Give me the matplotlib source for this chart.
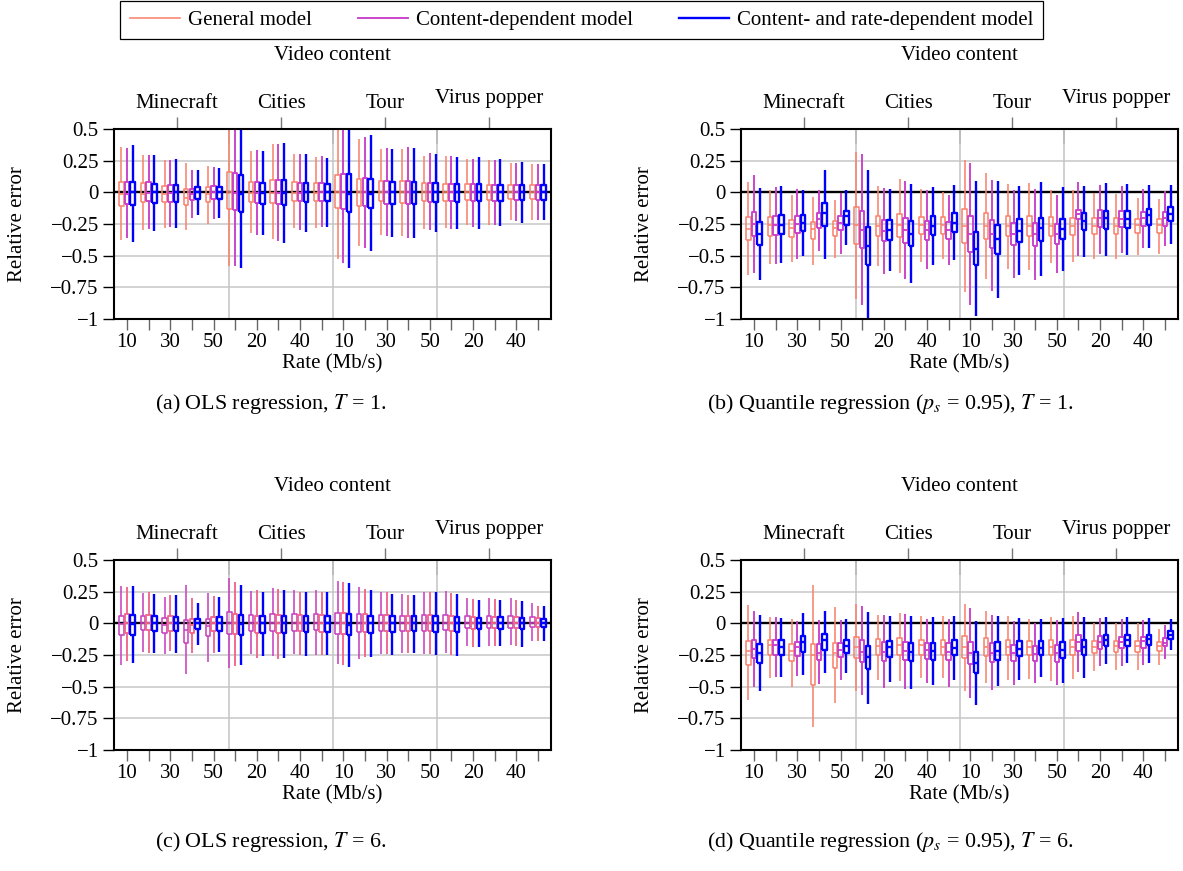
import matplotlib
matplotlib.use("Agg")
import matplotlib.pyplot as plt
import matplotlib.transforms as mtransforms
from matplotlib.lines import Line2D

plt.rcParams["font.family"] = ["Liberation Serif", "DejaVu Serif"]
plt.rcParams["mathtext.fontset"] = "stix"

contents = ["Minecraft", "Cities", "Tour", "Virus popper"]
rates = [10, 20, 30, 40, 50]
model_names = ["General model", "Content-dependent model",
               "Content- and rate-dependent model"]

# each row: (whisker low, q1, median, q3, whisker high) per content/rate pair

# (a) OLS regression, T = 1
ols1_general = [
    (-0.38, -0.105, -0.015, 0.079, 0.355), (-0.296, -0.077, -0.01, 0.077, 0.296),
    (-0.283, -0.077, -0.01, 0.05, 0.254), (-0.30, -0.10, -0.045, 0.03, 0.23),
    (-0.25, -0.075, -0.01, 0.04, 0.21), (-0.58, -0.13, 0.0, 0.16, 0.62),
    (-0.325, -0.08, -0.005, 0.08, 0.325), (-0.37, -0.085, -0.005, 0.095, 0.38),
    (-0.28, -0.065, -0.005, 0.08, 0.30), (-0.28, -0.07, -0.005, 0.076, 0.28),
    (-0.53, -0.126, 0.0, 0.14, 0.62), (-0.42, -0.105, 0.0, 0.108, 0.42),
    (-0.34, -0.07, 0.0, 0.09, 0.34), (-0.345, -0.084, 0.0, 0.09, 0.345),
    (-0.287, -0.07, 0.0, 0.076, 0.29), (-0.28, -0.07, 0.0, 0.068, 0.29),
    (-0.26, -0.063, 0.0, 0.066, 0.266), (-0.255, -0.063, 0.0, 0.06, 0.258),
    (-0.216, -0.053, 0.0, 0.055, 0.234), (-0.216, -0.053, 0.0, 0.055, 0.226),
]
ols1_content = [
    (-0.36, -0.095, -0.01, 0.085, 0.35), (-0.286, -0.07, -0.005, 0.08, 0.296),
    (-0.27, -0.074, -0.005, 0.055, 0.254), (-0.20, -0.06, -0.01, 0.03, 0.18),
    (-0.21, -0.05, 0.0, 0.05, 0.20), (-0.585, -0.14, -0.005, 0.15, 0.62),
    (-0.34, -0.085, -0.005, 0.08, 0.335), (-0.385, -0.09, -0.005, 0.095, 0.385),
    (-0.30, -0.07, -0.005, 0.075, 0.30), (-0.27, -0.07, 0.0, 0.076, 0.284),
    (-0.555, -0.13, 0.0, 0.142, 0.62), (-0.437, -0.105, 0.0, 0.113, 0.44),
    (-0.347, -0.09, 0.0, 0.09, 0.353), (-0.358, -0.09, 0.0, 0.09, 0.355),
    (-0.30, -0.08, 0.0, 0.076, 0.31), (-0.287, -0.07, 0.0, 0.066, 0.284),
    (-0.27, -0.07, 0.0, 0.066, 0.266), (-0.26, -0.065, 0.0, 0.06, 0.253),
    (-0.229, -0.058, 0.0, 0.055, 0.229), (-0.22, -0.058, 0.0, 0.055, 0.22),
]
ols1_rate = [
    (-0.39, -0.10, 0.0, 0.085, 0.37), (-0.307, -0.085, 0.0, 0.069, 0.296),
    (-0.28, -0.077, 0.0, 0.06, 0.264), (-0.18, -0.05, 0.0, 0.04, 0.175),
    (-0.20, -0.05, 0.0, 0.045, 0.19), (-0.60, -0.155, -0.01, 0.14, 0.62),
    (-0.34, -0.09, -0.005, 0.075, 0.325), (-0.40, -0.10, -0.005, 0.095, 0.39),
    (-0.31, -0.075, 0.0, 0.075, 0.30), (-0.27, -0.07, 0.0, 0.068, 0.27),
    (-0.60, -0.158, -0.016, 0.142, 0.62), (-0.463, -0.12, -0.01, 0.108, 0.45),
    (-0.353, -0.09, 0.0, 0.084, 0.34), (-0.358, -0.095, 0.0, 0.084, 0.35),
    (-0.313, -0.08, 0.0, 0.07, 0.305), (-0.287, -0.08, 0.0, 0.066, 0.276),
    (-0.287, -0.07, 0.0, 0.066, 0.28), (-0.268, -0.07, 0.0, 0.06, 0.263),
    (-0.242, -0.063, 0.0, 0.055, 0.237), (-0.22, -0.058, 0.0, 0.055, 0.22),
]

# (b) quantile regression, T = 1
qr1_general = [
    (-0.65, -0.374, -0.287, -0.195, 0.08), (-0.563, -0.342, -0.26, -0.197, 0.02),
    (-0.55, -0.353, -0.279, -0.216, -0.018), (-0.571, -0.371, -0.287, -0.237, -0.037),
    (-0.516, -0.345, -0.282, -0.229, -0.058), (-0.84, -0.405, -0.255, -0.116, 0.318),
    (-0.584, -0.345, -0.268, -0.19, 0.05), (-0.634, -0.355, -0.26, -0.171, 0.108),
    (-0.55, -0.332, -0.26, -0.192, 0.024), (-0.529, -0.329, -0.258, -0.195, 0.0),
    (-0.79, -0.397, -0.268, -0.134, 0.258), (-0.687, -0.366, -0.268, -0.163, 0.155),
    (-0.608, -0.347, -0.268, -0.187, 0.066), (-0.616, -0.347, -0.266, -0.187, 0.074),
    (-0.558, -0.342, -0.268, -0.195, 0.021), (-0.55, -0.334, -0.268, -0.2, 0.016),
    (-0.53, -0.332, -0.266, -0.2, -0.003), (-0.524, -0.332, -0.268, -0.2, -0.016),
    (-0.492, -0.318, -0.255, -0.208, -0.042), (-0.484, -0.321, -0.255, -0.21, -0.05),
]
qr1_content = [
    (-0.637, -0.347, -0.253, -0.155, 0.134), (-0.563, -0.334, -0.26, -0.187, 0.042),
    (-0.53, -0.321, -0.247, -0.184, 0.026), (-0.463, -0.284, -0.208, -0.163, 0.016),
    (-0.484, -0.297, -0.242, -0.187, -0.003), (-0.892, -0.442, -0.295, -0.147, 0.3),
    (-0.642, -0.387, -0.305, -0.218, 0.037), (-0.687, -0.397, -0.3, -0.2, 0.092),
    (-0.608, -0.376, -0.3, -0.224, 0.016), (-0.574, -0.366, -0.297, -0.232, -0.024),
    (-0.887, -0.468, -0.332, -0.187, 0.232), (-0.779, -0.439, -0.332, -0.218, 0.1),
    (-0.676, -0.418, -0.332, -0.242, 0.021), (-0.689, -0.421, -0.326, -0.242, 0.029),
    (-0.639, -0.408, -0.332, -0.253, -0.018), (-0.505, -0.213, -0.175, -0.137, 0.082),
    (-0.484, -0.274, -0.203, -0.137, 0.061), (-0.479, -0.274, -0.208, -0.147, 0.053),
    (-0.442, -0.268, -0.203, -0.153, 0.024), (-0.426, -0.263, -0.205, -0.158, 0.013),
]
qr1_rate = [
    (-0.695, -0.418, -0.326, -0.237, 0.037), (-0.558, -0.332, -0.258, -0.179, 0.047),
    (-0.505, -0.308, -0.24, -0.176, 0.02), (-0.53, -0.263, -0.16, -0.084, 0.18),
    (-0.418, -0.255, -0.189, -0.147, 0.016), (-1.05, -0.576, -0.424, -0.276, 0.174),
    (-0.624, -0.379, -0.3, -0.218, 0.024), (-0.713, -0.421, -0.326, -0.229, 0.063),
    (-0.574, -0.34, -0.263, -0.187, 0.042), (-0.532, -0.311, -0.24, -0.163, 0.058),
    (-0.974, -0.571, -0.445, -0.313, 0.087), (-0.832, -0.484, -0.368, -0.258, 0.092),
    (-0.655, -0.392, -0.303, -0.213, 0.05), (-0.66, -0.384, -0.282, -0.2, 0.079),
    (-0.624, -0.371, -0.289, -0.21, 0.042), (-0.51, -0.3, -0.226, -0.16, 0.05),
    (-0.505, -0.287, -0.203, -0.145, 0.076), (-0.497, -0.282, -0.208, -0.145, 0.066),
    (-0.442, -0.255, -0.182, -0.129, 0.055), (-0.405, -0.229, -0.168, -0.116, 0.06),
]

# (c) OLS regression, T = 6
ols6_general = [
    (-0.33, -0.095, -0.005, 0.06, 0.295), (-0.229, -0.053, 0.0, 0.06, 0.24),
    (-0.242, -0.074, -0.01, 0.042, 0.21), (-0.397, -0.153, -0.055, 0.026, 0.3),
    (-0.303, -0.1, -0.02, 0.037, 0.24), (-0.35, -0.082, 0.0, 0.092, 0.358),
    (-0.245, -0.058, 0.0, 0.068, 0.255), (-0.26, -0.058, 0.0, 0.076, 0.282),
    (-0.242, -0.058, 0.0, 0.071, 0.26), (-0.253, -0.055, 0.0, 0.074, 0.266),
    (-0.324, -0.082, 0.0, 0.084, 0.334), (-0.279, -0.068, 0.0, 0.076, 0.284),
    (-0.245, -0.061, 0.0, 0.068, 0.25), (-0.232, -0.058, 0.0, 0.06, 0.234),
    (-0.242, -0.061, 0.0, 0.066, 0.25), (-0.234, -0.055, 0.0, 0.068, 0.253),
    (-0.179, -0.034, 0.0, 0.058, 0.203), (-0.179, -0.037, 0.0, 0.055, 0.2),
    (-0.174, -0.034, 0.0, 0.055, 0.197), (-0.139, -0.026, 0.0, 0.05, 0.161),
]
ols6_content = [
    (-0.3, -0.076, 0.0, 0.071, 0.29), (-0.234, -0.053, 0.0, 0.066, 0.247),
    (-0.218, -0.058, 0.0, 0.055, 0.221), (-0.237, -0.076, -0.01, 0.032, 0.2),
    (-0.234, -0.063, 0.0, 0.05, 0.216), (-0.337, -0.087, 0.0, 0.076, 0.326),
    (-0.276, -0.074, 0.0, 0.06, 0.26), (-0.279, -0.074, 0.0, 0.068, 0.268),
    (-0.247, -0.063, 0.0, 0.066, 0.245), (-0.253, -0.068, 0.0, 0.063, 0.245),
    (-0.329, -0.082, 0.0, 0.084, 0.329), (-0.266, -0.068, 0.0, 0.071, 0.271),
    (-0.242, -0.061, 0.0, 0.063, 0.247), (-0.232, -0.061, 0.0, 0.06, 0.226),
    (-0.245, -0.061, 0.0, 0.063, 0.247), (-0.247, -0.063, 0.0, 0.058, 0.24),
    (-0.187, -0.042, 0.0, 0.053, 0.192), (-0.182, -0.04, 0.0, 0.053, 0.19),
    (-0.179, -0.04, 0.0, 0.05, 0.187), (-0.137, -0.032, 0.0, 0.04, 0.139),
]
ols6_rate = [
    (-0.316, -0.089, -0.005, 0.068, 0.297), (-0.237, -0.063, 0.0, 0.055, 0.229),
    (-0.234, -0.063, 0.0, 0.05, 0.226), (-0.168, -0.047, 0.0, 0.037, 0.158),
    (-0.226, -0.063, 0.0, 0.05, 0.21), (-0.326, -0.089, -0.005, 0.066, 0.305),
    (-0.26, -0.074, 0.0, 0.055, 0.247), (-0.275, -0.074, 0.0, 0.058, 0.263),
    (-0.258, -0.068, 0.0, 0.055, 0.245), (-0.253, -0.068, 0.0, 0.058, 0.245),
    (-0.347, -0.095, -0.01, 0.071, 0.318), (-0.263, -0.074, 0.0, 0.058, 0.26),
    (-0.253, -0.066, 0.0, 0.058, 0.234), (-0.237, -0.063, 0.0, 0.055, 0.221),
    (-0.247, -0.068, 0.0, 0.06, 0.25), (-0.255, -0.068, 0.0, 0.053, 0.234),
    (-0.187, -0.047, 0.0, 0.042, 0.182), (-0.182, -0.047, 0.0, 0.047, 0.182),
    (-0.184, -0.047, 0.0, 0.042, 0.179), (-0.139, -0.032, 0.0, 0.037, 0.137),
]

# (d) quantile regression, T = 6
qr6_general = [
    (-0.605, -0.326, -0.221, -0.139, 0.147), (-0.432, -0.247, -0.174, -0.132, 0.053),
    (-0.5, -0.3, -0.221, -0.163, 0.037), (-0.818, -0.489, -0.253, -0.163, 0.3),
    (-0.632, -0.35, -0.234, -0.158, 0.126), (-0.534, -0.274, -0.187, -0.105, 0.15),
    (-0.447, -0.253, -0.179, -0.126, 0.063), (-0.458, -0.253, -0.174, -0.118, 0.082),
    (-0.429, -0.247, -0.174, -0.129, 0.055), (-0.432, -0.247, -0.187, -0.132, 0.055),
    (-0.534, -0.274, -0.189, -0.1, 0.153), (-0.468, -0.261, -0.187, -0.116, 0.097),
    (-0.45, -0.253, -0.189, -0.132, 0.055), (-0.437, -0.253, -0.189, -0.137, 0.037),
    (-0.453, -0.253, -0.187, -0.132, 0.053), (-0.437, -0.253, -0.187, -0.132, 0.055),
    (-0.379, -0.232, -0.187, -0.139, 0.0), (-0.371, -0.229, -0.182, -0.142, 0.0),
    (-0.368, -0.229, -0.182, -0.142, 0.0), (-0.326, -0.221, -0.179, -0.147, -0.042),
]
qr6_content = [
    (-0.5, -0.274, -0.2, -0.129, 0.095), (-0.426, -0.247, -0.174, -0.132, 0.05),
    (-0.418, -0.255, -0.187, -0.147, 0.021), (-0.476, -0.289, -0.232, -0.163, 0.024),
    (-0.447, -0.266, -0.208, -0.153, 0.024), (-0.568, -0.308, -0.226, -0.132, 0.134),
    (-0.511, -0.295, -0.226, -0.15, 0.063), (-0.516, -0.292, -0.221, -0.147, 0.074),
    (-0.468, -0.282, -0.213, -0.155, 0.037), (-0.5, -0.287, -0.226, -0.155, 0.034),
    (-0.587, -0.321, -0.232, -0.145, 0.124), (-0.526, -0.303, -0.232, -0.158, 0.063),
    (-0.484, -0.295, -0.237, -0.168, 0.021), (-0.474, -0.295, -0.239, -0.179, 0.0),
    (-0.484, -0.303, -0.237, -0.168, 0.026), (-0.387, -0.221, -0.147, -0.095, 0.092),
    (-0.334, -0.2, -0.147, -0.1, 0.045), (-0.337, -0.197, -0.147, -0.111, 0.032),
    (-0.332, -0.195, -0.142, -0.105, 0.029), (-0.284, -0.182, -0.153, -0.116, -0.013),
]
qr6_rate = [
    (-0.537, -0.31, -0.234, -0.163, 0.066), (-0.421, -0.247, -0.187, -0.132, 0.042),
    (-0.405, -0.226, -0.15, -0.1, 0.084), (-0.392, -0.208, -0.134, -0.084, 0.095),
    (-0.395, -0.232, -0.179, -0.132, 0.034), (-0.637, -0.363, -0.268, -0.179, 0.089),
    (-0.463, -0.263, -0.189, -0.137, 0.061), (-0.516, -0.297, -0.226, -0.155, 0.061),
    (-0.489, -0.287, -0.221, -0.155, 0.047), (-0.445, -0.253, -0.192, -0.132, 0.061),
    (-0.642, -0.392, -0.311, -0.229, 0.021), (-0.495, -0.287, -0.216, -0.15, 0.058),
    (-0.45, -0.261, -0.2, -0.139, 0.045), (-0.424, -0.25, -0.195, -0.139, 0.034),
    (-0.468, -0.274, -0.213, -0.147, 0.042), (-0.432, -0.247, -0.187, -0.132, 0.053),
    (-0.321, -0.179, -0.134, -0.092, 0.047), (-0.316, -0.179, -0.132, -0.089, 0.047),
    (-0.311, -0.174, -0.126, -0.089, 0.045), (-0.211, -0.121, -0.089, -0.058, 0.037),
]

SALMON = "#f8836f"
MAGENTA = "#c93fc9"
BLUE = "#0000ff"
LINE_WIDTHS = [1.15, 1.35, 1.7]
FS = 15

W, H = 1183, 871
fig = plt.figure(figsize=(W / 100, H / 100), dpi=100)


def px_rect(left, top, width, height):
    return [left / W, 1 - (top + height) / H, width / W, height / H]


def to_stats(rows):
    return [dict(whislo=r[0], q1=r[1], med=r[2], q3=r[3], whishi=r[4]) for r in rows]


n = len(contents) * len(rates)
xpos = list(range(n))
separators = [4.72, 9.52, 14.32]
group_centers = [2.32, 7.12, 11.92, 16.72]
tick_labels = [str(r) if i % 2 == 0 else "" for i, r in
               enumerate(r for _ in contents for r in rates)]


def draw_panel(rect, series, colors, caption, caption_xy):
    ax = fig.add_axes(rect)
    offsets = [-0.265, 0.0, 0.265]
    for rows, color, lw, off in zip(series, colors, LINE_WIDTHS, offsets):
        props = dict(color=color, lw=lw, solid_capstyle="butt")
        ax.bxp(to_stats(rows), positions=[x + off for x in xpos], widths=0.21,
               showcaps=False, showfliers=False, manage_ticks=False,
               boxprops=props, whiskerprops=props, medianprops=props)

    ax.set_xlim(-0.6, 19.6)
    ax.set_ylim(-1, 0.5)
    yt = [-1, -0.75, -0.5, -0.25, 0, 0.25, 0.5]
    ax.set_yticks(yt, ["\u22121", "\u22120.75", "\u22120.5", "\u22120.25", "0", "0.25", "0.5"])
    ax.yaxis.grid(True, color="#c8c8c8", lw=1.1)
    ax.set_axisbelow(True)
    ax.axhline(0, color="black", lw=1.7, zorder=1.5)
    for s in separators:
        ax.axvline(s, color="#c4c4c4", lw=1.1, zorder=1)

    ax.set_xticks(xpos, tick_labels)
    ax.tick_params(axis="x", direction="out", length=8, width=1, color="#666666",
                   labelsize=FS, pad=2)
    ax.tick_params(axis="y", direction="out", length=8, width=1, labelsize=FS, pad=3)
    for sp in ax.spines.values():
        sp.set_linewidth(1.5)

    top = ax.secondary_xaxis("top")
    top.set_xticks(group_centers, [""] * len(group_centers))
    top.set_xticks(separators, minor=True)
    top.tick_params(which="major", direction="out", length=9, width=1, color="#777777")
    top.tick_params(which="minor", direction="in", length=11, width=1.3, color="#9a9a9a")
    top.spines["top"].set_visible(False)

    trans = mtransforms.blended_transform_factory(ax.transData, ax.transAxes)
    for c, name in zip(group_centers, contents):
        y = 1.137 if name == "Virus popper" else 1.11
        ax.text(c, y, name, transform=trans, ha="center", va="baseline", fontsize=FS)
    ax.text(0.5, 1.365, "Video content", transform=ax.transAxes,
            ha="center", va="baseline", fontsize=FS)

    ax.set_xlabel("Rate (Mb/s)", fontsize=FS, labelpad=2)
    ax.set_ylabel("Relative error", fontsize=FS)
    ax.yaxis.set_label_coords(-0.2, 0.5)

    fig.text(caption_xy[0] / W, 1 - caption_xy[1] / H, caption,
             ha="center", va="center", fontsize=15.8)
    return ax


draw_panel(px_rect(114, 129, 437, 190), [ols1_general, ols1_content, ols1_rate],
           [SALMON, MAGENTA, BLUE], "(a) OLS regression, $T$ = 1.", (271, 404))
draw_panel(px_rect(741, 129, 437, 190), [qr1_general, qr1_content, qr1_rate],
           [SALMON, MAGENTA, BLUE],
           "(b) Quantile regression ($p_s$ = 0.95), $T$ = 1.", (890, 404))
draw_panel(px_rect(114, 560, 437, 190), [ols6_general, ols6_content, ols6_rate],
           ["#c942c0", "#f0668c", BLUE], "(c) OLS regression, $T$ = 6.", (271, 842))
draw_panel(px_rect(741, 560, 437, 190), [qr6_general, qr6_content, qr6_rate],
           [SALMON, MAGENTA, BLUE],
           "(d) Quantile regression ($p_s$ = 0.95), $T$ = 6.", (890, 842))

handles = [Line2D([], [], color=c, lw=lw) for c, lw in zip([SALMON, MAGENTA, BLUE], LINE_WIDTHS)]
leg = fig.legend(handles, model_names, loc="upper center",
                 bbox_to_anchor=(581.5 / W, 1 - 1 / H), ncol=3, fontsize=FS,
                 frameon=True, fancybox=False, edgecolor="black", framealpha=1,
                 handlelength=2.4, handletextpad=0.4, columnspacing=2.2,
                 borderpad=0.45, borderaxespad=0)
leg.get_frame().set_linewidth(0.9)

fig.savefig("out.png", dpi=100)
